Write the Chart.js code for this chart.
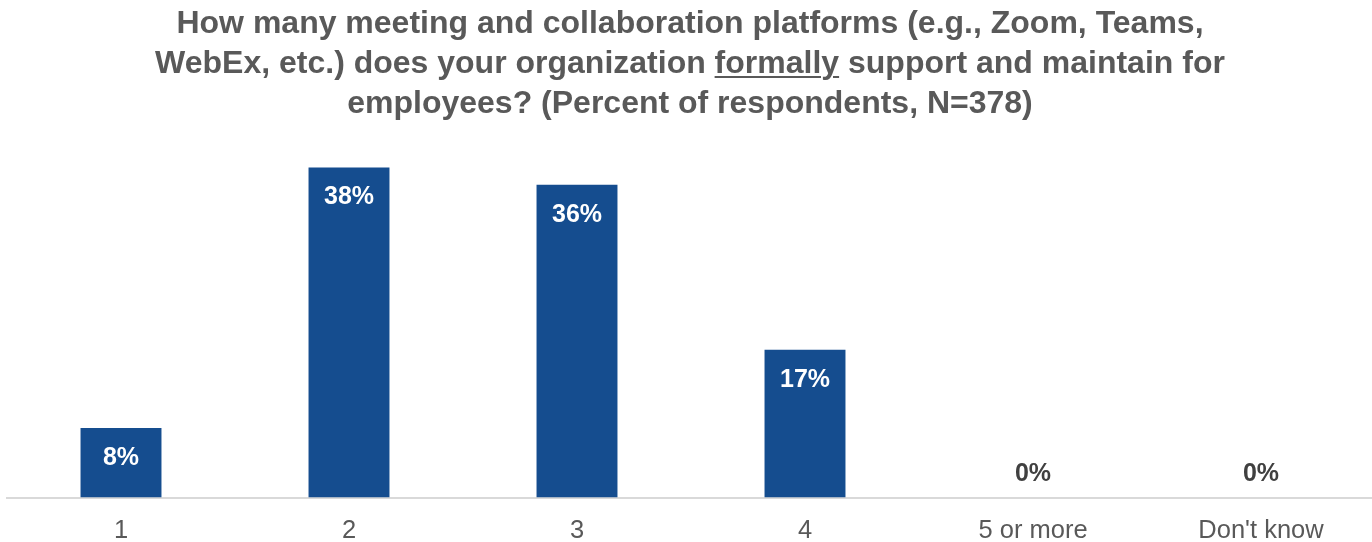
<!DOCTYPE html>
<html lang="en">
<head>
    <meta charset="UTF-8">
    <title>Meeting and collaboration platforms</title>
    <script src="https://cdn.jsdelivr.net/npm/chart.js"></script>
    <style>
        html, body {
            margin: 0;
            padding: 0;
            background: #ffffff;
            overflow: hidden;
        }
        #chartTitle {
            position: absolute;
            top: 2px;
            left: 0;
            width: 1372px;
            padding-left: 8px;
            box-sizing: border-box;
            text-align: center;
            font-family: "Liberation Sans", Arial, sans-serif;
            font-weight: bold;
            font-size: 32px;
            line-height: 40px;
            color: #595959;
        }
        #chartTitle u {
            text-decoration-thickness: 2px;
            text-underline-offset: 3px;
        }
        #chartBox {
            position: absolute;
            top: 0;
            left: 0;
            width: 1376px;
            height: 565px;
        }
    </style>
</head>
<body>

    <div id="chartBox">
        <canvas id="platformChart"></canvas>
    </div>
    <div id="chartTitle">
        How many meeting and collaboration platforms (e.g., Zoom, Teams,<br>
        WebEx, etc.) does your organization <u>formally</u> support and maintain for<br>
        employees? (Percent of respondents, N=378)
    </div>

    <script>
        // answer options and share of respondents (%)
        const categories = ['1', '2', '3', '4', '5 or more', "Don't know"];
        const percentages = [8, 38, 36, 17, 0, 0];

        const barColor = '#154d8f';
        const textGray = '#595959';

        // writes the percentage on each bar: white inside tall bars, dark above empty ones
        const valueLabels = {
            id: 'valueLabels',
            afterDatasetsDraw(chart) {
                const ctx = chart.ctx;
                const meta = chart.getDatasetMeta(0);
                ctx.save();
                ctx.font = 'bold 25px "Liberation Sans", Arial, sans-serif';
                ctx.textAlign = 'center';
                ctx.textBaseline = 'middle';
                meta.data.forEach(function (bar, i) {
                    const value = percentages[i];
                    if (value > 0) {
                        ctx.fillStyle = '#ffffff';
                        ctx.fillText(value + '%', bar.x, bar.y + 30);
                    } else {
                        ctx.fillStyle = '#404040';
                        ctx.fillText(value + '%', bar.x, bar.base - 23);
                    }
                });
                ctx.restore();
            }
        };

        const ctx = document.getElementById('platformChart').getContext('2d');
        const chart = new Chart(ctx, {
            type: 'bar',
            data: {
                labels: categories,
                datasets: [{
                    data: percentages,
                    backgroundColor: barColor,
                    borderWidth: 0,
                    categoryPercentage: 1.0,
                    barPercentage: 0.355
                }]
            },
            options: {
                responsive: true,
                maintainAspectRatio: false,
                animation: false,
                layout: {
                    padding: { top: 150, left: 7, right: 1, bottom: 0 }
                },
                plugins: {
                    legend: { display: false },
                    tooltip: { enabled: false },
                    title: { display: false }
                },
                scales: {
                    x: {
                        grid: { display: false, drawTicks: false },
                        border: { color: '#d9d9d9', width: 2 },
                        ticks: {
                            color: textGray,
                            padding: 21,
                            font: { family: '"Liberation Sans", Arial, sans-serif', size: 25.5, lineHeight: 1 }
                        }
                    },
                    y: {
                        display: false,
                        min: 0,
                        max: 40
                    }
                }
            },
            plugins: [valueLabels]
        });
    </script>
</body>
</html>
